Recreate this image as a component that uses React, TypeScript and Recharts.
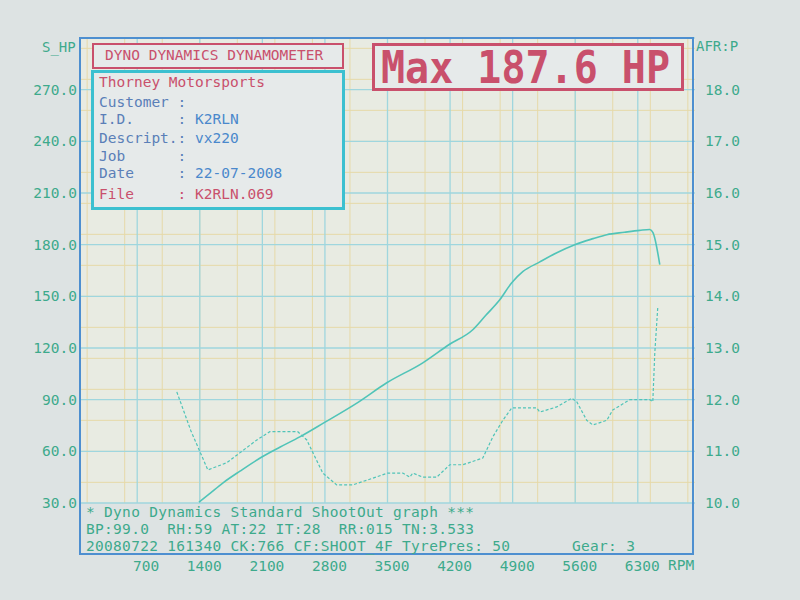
import { LineChart, Line, XAxis, YAxis, CartesianGrid } from "recharts"

// power run
const hpRpm = [1390, 1500, 1657, 1850, 2094, 2300, 2519, 2787, 3157, 3492, 3895, 4186, 4454, 4600, 4756, 4890, 5013, 5204, 5400, 5595, 5800, 5953, 6150, 6322, 6434, 6470, 6546]
const hpValues = [30.5, 35, 41.6, 48.5, 56.7, 62.5, 68.4, 76.5, 88, 99.8, 111.4, 121.9, 130.6, 139, 148, 157.9, 164.3, 170, 175.5, 180, 183.5, 185.8, 187.2, 188.3, 188.8, 187, 168.4]

// air/fuel ratio trace
const afrRpm = [1143, 1300, 1490, 1702, 1847, 2038, 2183, 2496, 2597, 2776, 2932, 3112, 3335, 3503, 3671, 3750, 3783, 3895, 4051, 4197, 4342, 4566, 4678, 4790, 4890, 5170, 5204, 5394, 5562, 5617, 5729, 5797, 5953, 6020, 6211, 6434, 6468, 6490, 6524]
const afrValues = [12.15, 11.4, 10.64, 10.78, 10.97, 11.22, 11.38, 11.38, 11.22, 10.58, 10.35, 10.35, 10.48, 10.58, 10.58, 10.5, 10.58, 10.5, 10.5, 10.74, 10.74, 10.87, 11.28, 11.6, 11.84, 11.84, 11.76, 11.86, 12.03, 11.96, 11.6, 11.51, 11.6, 11.8, 12.0, 12.0, 11.96, 12.9, 13.8]

const rpmTicks = [700, 1400, 2100, 2800, 3500, 4200, 4900, 5600, 6300]
const hpTicks = [30, 60, 90, 120, 150, 180, 210, 240, 270]
const afrTicks = [10, 11, 12, 13, 14, 15, 16, 17, 18]

const hpData = hpRpm.map((rpm, i) => ({ rpm, hp: hpValues[i] }))
const afrData = afrRpm.map((rpm, i) => ({ rpm, afr: afrValues[i] }))

const majorY = [...hpTicks, 300]
const minorX: number[] = []
for (let v = 140; v < 6940; v += 140) minorX.push(v)
const minorY: number[] = []
for (let v = 36; v < 300; v += 6) minorY.push(v)

const MONO = "'DejaVu Sans Mono', 'Liberation Mono', monospace"
const GREEN = "#3daa8c"
const RED = "#c9506c"
const CURVE = "#50c4b8"
const FRAME = "#4d8fd0"
const LABEL = "#5a7fb8"
const VALUE = "#4a88cc"

const RpmTick = (props: any) => {
  const { x, y, payload } = props
  return (
    <text x={x + 22} y={y} dy={66} textAnchor="end" fill={GREEN} fontSize={14.5} fontFamily={MONO}>
      {payload.value}
    </text>
  )
}

const txt = (extra: any) => ({
  position: "absolute" as const,
  fontFamily: MONO,
  whiteSpace: "pre" as const,
  lineHeight: "1",
  ...extra,
})

export default function App() {
  return (
    <div style={{ position: "absolute", left: 0, top: 0, width: 800, height: 600, background: "#dde3e3", overflow: "hidden" }}>
      <LineChart width={800} height={600} margin={{ top: 38, right: 35, bottom: 37, left: 10 }}>
        <CartesianGrid
          xAxisId="rpm"
          yAxisId="hp"
          fill="#e8ebe2"
          stroke="#e6d9a8"
          strokeWidth={1}
          verticalValues={minorX}
          horizontalValues={minorY}
        />
        <CartesianGrid
          xAxisId="rpm"
          yAxisId="hp"
          stroke="#9fd6de"
          strokeWidth={1.3}
          verticalValues={rpmTicks}
          horizontalValues={majorY}
        />
        <XAxis
          xAxisId="rpm"
          dataKey="rpm"
          type="number"
          domain={[60, 6940]}
          ticks={rpmTicks}
          allowDataOverflow
          axisLine={false}
          tickLine={false}
          tickSize={0}
          height={60}
          tick={<RpmTick />}
        />
        <YAxis
          yAxisId="hp"
          type="number"
          domain={[30, 300]}
          ticks={hpTicks}
          width={70}
          axisLine={false}
          tickLine={false}
          tickSize={0}
          tickMargin={3}
          tickFormatter={(v: number) => v.toFixed(1)}
          tick={{ fill: GREEN, fontSize: 14.5, fontFamily: MONO }}
        />
        <YAxis
          yAxisId="afr"
          orientation="right"
          type="number"
          domain={[10, 19]}
          ticks={afrTicks}
          width={70}
          axisLine={false}
          tickLine={false}
          tickSize={0}
          tickMargin={10}
          tickFormatter={(v: number) => v.toFixed(1)}
          tick={{ fill: GREEN, fontSize: 14.5, fontFamily: MONO, textAnchor: "start" }}
        />
        <Line
          xAxisId="rpm"
          yAxisId="afr"
          data={afrData}
          dataKey="afr"
          type="linear"
          stroke={CURVE}
          strokeWidth={1.2}
          strokeDasharray="3 2"
          dot={false}
          isAnimationActive={false}
        />
        <Line
          xAxisId="rpm"
          yAxisId="hp"
          data={hpData}
          dataKey="hp"
          type="monotone"
          stroke={CURVE}
          strokeWidth={1.6}
          dot={false}
          isAnimationActive={false}
        />
      </LineChart>

      {/* outer frame incl. the text strip */}
      <div style={{ position: "absolute", left: 79, top: 37, width: 615, height: 518, border: `2px solid ${FRAME}`, boxSizing: "border-box", pointerEvents: "none" }} />

      <div style={txt({ left: 42, top: 40, fontSize: 14, color: GREEN })}>S_HP</div>
      <div style={txt({ left: 696, top: 39, fontSize: 14, color: GREEN })}>AFR:P</div>

      {/* header boxes */}
      <div style={{ position: "absolute", left: 92, top: 43, width: 252, height: 26, border: `2px solid ${RED}`, boxSizing: "border-box", background: "#e6eaea" }} />
      <div style={txt({ left: 105, top: 48, fontSize: 14.5, color: RED })}>DYNO DYNAMICS DYNAMOMETER</div>

      <div style={{ position: "absolute", left: 91, top: 70, width: 254, height: 140, border: "3px solid #3cc0d0", boxSizing: "border-box", background: "#e6eaea" }} />
      <div style={txt({ left: 99, top: 75, fontSize: 14.5, color: RED })}>Thorney Motorsports</div>
      <div style={txt({ left: 99, top: 95, fontSize: 14.5, color: LABEL })}>Customer :</div>
      <div style={txt({ left: 99, top: 112, fontSize: 14.5, color: LABEL })}>
        {"I.D.     : "}<span style={{ color: VALUE }}>K2RLN</span>
      </div>
      <div style={txt({ left: 99, top: 131, fontSize: 14.5, color: LABEL })}>
        {"Descript.: "}<span style={{ color: VALUE }}>vx220</span>
      </div>
      <div style={txt({ left: 99, top: 149, fontSize: 14.5, color: LABEL })}>Job      :</div>
      <div style={txt({ left: 99, top: 166, fontSize: 14.5, color: LABEL })}>
        {"Date     : "}<span style={{ color: VALUE }}>22-07-2008</span>
      </div>
      <div style={txt({ left: 99, top: 187, fontSize: 14.5, color: RED })}>File     : K2RLN.069</div>

      <div style={{ position: "absolute", left: 372, top: 43, width: 312, height: 48, border: `3px solid ${RED}`, boxSizing: "border-box", background: "#e6eaea" }} />
      <div style={txt({ left: 381, top: 46, fontSize: 40, fontWeight: 700, color: RED, transform: "scaleY(1.1)", transformOrigin: "top left" })}>Max 187.6 HP</div>

      {/* run conditions strip */}
      <div style={txt({ left: 86, top: 505, fontSize: 14.5, letterSpacing: 0.3, color: GREEN })}>* Dyno Dynamics Standard ShootOut graph ***</div>
      <div style={txt({ left: 86, top: 522, fontSize: 14.5, letterSpacing: 0.3, color: GREEN })}>BP:99.0  RH:59 AT:22 IT:28  RR:015 TN:3.533</div>
      <div style={txt({ left: 86, top: 539, fontSize: 14.5, letterSpacing: 0.3, color: GREEN })}>20080722 161340 CK:766 CF:SHOOT_4F TyrePres: 50</div>
      <div style={txt({ left: 572, top: 539, fontSize: 14.5, letterSpacing: 0.3, color: GREEN })}>Gear: 3</div>

      <div style={txt({ left: 668, top: 558, fontSize: 14.5, color: GREEN })}>RPM</div>
    </div>
  )
}
